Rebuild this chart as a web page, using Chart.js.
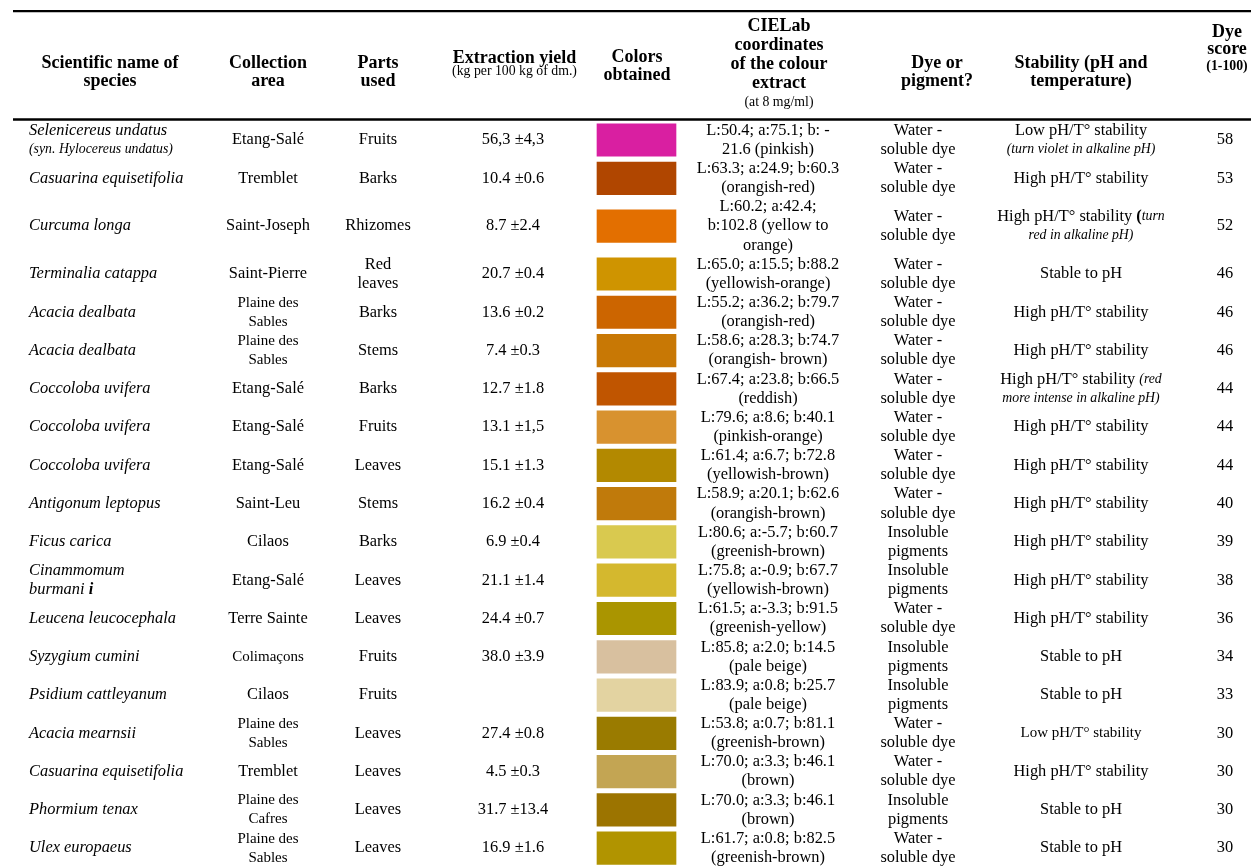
<!DOCTYPE html>
<html>
<head>
<meta charset="utf-8">
<title>Dye sources table</title>
<script src="https://cdn.jsdelivr.net/npm/chart.js@4.4.1/dist/chart.umd.min.js"></script>
<style>
  html, body { margin: 0; padding: 0; background: #ffffff; }
  #wrap { width: 1251px; height: 867px; }
</style>
</head>
<body>
<div id="wrap"><canvas id="dye-table" width="1251" height="867"></canvas></div>
<script>
// markup in cell texts: * toggles bold, ^ toggles italic, _ small size, ~ medium size, \n new line

const headers = [
    'Scientific name of\nspecies',
    'Collection\narea',
    'Parts\nused',
    'Extraction yield\n*_(kg per 100 kg of dm.)_*',
    'Colors\nobtained',
    'CIELab\ncoordinates\nof the colour\nextract\n*_(at 8 mg/ml)_*',
    'Dye or\npigment?',
    'Stability (pH and\ntemperature)',
    'Dye\nscore\n_(1-100)_'
];

const species = [
    'Selenicereus undatus\n_(syn. Hylocereus undatus)_',
    'Casuarina equisetifolia',
    'Curcuma longa',
    'Terminalia catappa',
    'Acacia dealbata',
    'Acacia dealbata',
    'Coccoloba uvifera',
    'Coccoloba uvifera',
    'Coccoloba uvifera',
    'Antigonum leptopus',
    'Ficus carica',
    'Cinammomum\nburmani *i*',
    'Leucena leucocephala',
    'Syzygium cumini',
    'Psidium cattleyanum',
    'Acacia mearnsii',
    'Casuarina equisetifolia',
    'Phormium tenax',
    'Ulex europaeus'
];

const areas = [
    'Etang-Salé', 'Tremblet', 'Saint-Joseph', 'Saint-Pierre',
    '~Plaine des\nSables~', '~Plaine des\nSables~',
    'Etang-Salé', 'Etang-Salé', 'Etang-Salé', 'Saint-Leu', 'Cilaos', 'Etang-Salé',
    'Terre Sainte', '~Colimaçons~', 'Cilaos', '~Plaine des\nSables~', 'Tremblet',
    '~Plaine des\nCafres~', '~Plaine des\nSables~'
];

const parts = [
    'Fruits', 'Barks', 'Rhizomes', 'Red\nleaves', 'Barks', 'Stems', 'Barks', 'Fruits',
    'Leaves', 'Stems', 'Barks', 'Leaves', 'Leaves', 'Fruits', 'Fruits', 'Leaves',
    'Leaves', 'Leaves', 'Leaves'
];

const yields = [
    '56,3 ±4,3', '10.4 ±0.6', '8.7 ±2.4', '20.7 ±0.4', '13.6 ±0.2', '7.4 ±0.3',
    '12.7 ±1.8', '13.1 ±1,5', '15.1 ±1.3', '16.2 ±0.4', '6.9 ±0.4', '21.1 ±1.4',
    '24.4 ±0.7', '38.0 ±3.9', '', '27.4 ±0.8', '4.5 ±0.3', '31.7 ±13.4', '16.9 ±1.6'
];

const colors = [
    '#d91fa1', '#b04600', '#e36f00', '#cf9400', '#cc6500', '#c87805', '#c05500',
    '#d8922f', '#b38900', '#c07a0b', '#d9c94f', '#d4b82e', '#aa9500', '#d8c09f',
    '#e3d3a1', '#9a7b00', '#c3a553', '#9c7400', '#b19400'
];

const cielab = [
    'L:50.4; a:75.1; b: -\n21.6 (pinkish)',
    'L:63.3; a:24.9; b:60.3\n(orangish-red)',
    'L:60.2; a:42.4;\nb:102.8 (yellow to\norange)',
    'L:65.0; a:15.5; b:88.2\n(yellowish-orange)',
    'L:55.2; a:36.2; b:79.7\n(orangish-red)',
    'L:58.6; a:28.3; b:74.7\n(orangish- brown)',
    'L:67.4; a:23.8; b:66.5\n(reddish)',
    'L:79.6; a:8.6; b:40.1\n(pinkish-orange)',
    'L:61.4; a:6.7; b:72.8\n(yellowish-brown)',
    'L:58.9; a:20.1; b:62.6\n(orangish-brown)',
    'L:80.6; a:-5.7; b:60.7\n(greenish-brown)',
    'L:75.8; a:-0.9; b:67.7\n(yellowish-brown)',
    'L:61.5; a:-3.3; b:91.5\n(greenish-yellow)',
    'L:85.8; a:2.0; b:14.5\n(pale beige)',
    'L:83.9; a:0.8; b:25.7\n(pale beige)',
    'L:53.8; a:0.7; b:81.1\n(greenish-brown)',
    'L:70.0; a:3.3; b:46.1\n(brown)',
    'L:70.0; a:3.3; b:46.1\n(brown)',
    'L:61.7; a:0.8; b:82.5\n(greenish-brown)'
];

const WS = 'Water -\nsoluble dye';
const IP = 'Insoluble\npigments';
const dyeType = [WS, WS, WS, WS, WS, WS, WS, WS, WS, WS, IP, IP, WS, IP, IP, WS, WS, IP, WS];

const HIGH = 'High pH/T° stability';
const stability = [
    'Low pH/T° stability\n_^(turn violet in alkaline pH)^_',
    HIGH,
    'High pH/T° stability *(*_^turn\nred in alkaline pH)^_',
    'Stable to pH',
    HIGH,
    HIGH,
    'High pH/T° stability _^(red\nmore intense in alkaline pH)^_',
    HIGH, HIGH, HIGH, HIGH, HIGH, HIGH,
    'Stable to pH',
    'Stable to pH',
    '~Low pH/T° stability~',
    HIGH,
    'Stable to pH',
    'Stable to pH'
];

const scores = [58, 53, 52, 46, 46, 46, 44, 44, 44, 40, 39, 38, 36, 34, 33, 30, 30, 30, 30];

// ---- layout (pixels) ----
const W = 1251, H = 867;
const FONT = '"Liberation Serif", "Times New Roman", Times, serif';
const BODY_SIZE = 16.4, HEAD_SIZE = 18, SMALL_SIZE = 13.8, MID_SIZE = 15;
const LINE = 19.14;        // px per body text line
const BODY_TOP = 120.86;   // px where first row starts
const SWATCH_HALF = 0.85;  // swatch half height, in lines
const SWATCH_W = 79;
const COLOR_X = 636.5;

const bodyCols = [
    { values: species,   x: 29,   align: 'left', italic: true },
    { values: areas,     x: 268 },
    { values: parts,     x: 378 },
    { values: yields,    x: 513 },
    { values: cielab,    x: 768 },
    { values: dyeType,   x: 918 },
    { values: stability, x: 1081 },
    { values: scores,    x: 1225 }
];

// header: x centre and y middle of every line (px)
const headLayout = [
    { x: 110,   ys: [63, 81.5] },
    { x: 268,   ys: [63, 81.5] },
    { x: 378,   ys: [63, 81.5] },
    { x: 514.5, ys: [58.5, 71] },
    { x: 637,   ys: [57, 75.5] },
    { x: 779,   ys: [26, 45, 64, 83, 102] },
    { x: 937,   ys: [63, 81.5] },
    { x: 1081,  ys: [63, 81.5] },
    { x: 1227,  ys: [32, 49, 66] }
];

// row extents in line units, from the number of text lines in each row
const rowLines = species.map((_, i) =>
    Math.max(...bodyCols.map(c => String(c.values[i]).split('\n').length)));
const rowMid = [];
let acc = 0;
rowLines.forEach(n => { rowMid.push(acc + n / 2); acc += n; });

function parseRich(str) {
    const lines = [[]];
    let bold = false, ital = false, small = false, mid = false, buf = '';
    const flush = () => {
        if (buf) lines[lines.length - 1].push({ t: buf, bold, ital, small, mid });
        buf = '';
    };
    for (const ch of String(str)) {
        if (ch === '*') { flush(); bold = !bold; }
        else if (ch === '^') { flush(); ital = !ital; }
        else if (ch === '_') { flush(); small = !small; }
        else if (ch === '~') { flush(); mid = !mid; }
        else if (ch === '\n') { flush(); lines.push([]); }
        else buf += ch;
    }
    flush();
    return lines;
}

function runFont(base, r) {
    const italic = (!!base.italic) !== r.ital;
    const bold = (!!base.bold) !== r.bold;
    const size = r.small ? SMALL_SIZE : r.mid ? MID_SIZE : base.size;
    return (italic ? 'italic ' : '') + (bold ? 'bold ' : '') + size + 'px ' + FONT;
}

function drawRichLine(ctx, runs, x, y, align, base) {
    let total = 0;
    const widths = runs.map(r => {
        ctx.font = runFont(base, r);
        const w = ctx.measureText(r.t).width;
        total += w;
        return w;
    });
    let cx = align === 'left' ? x : x - total / 2;
    runs.forEach((r, k) => {
        ctx.font = runFont(base, r);
        ctx.fillText(r.t, cx, y);
        cx += widths[k];
    });
}

const tableText = {
    id: 'tableText',
    afterDatasetsDraw(chart) {
        const ctx = chart.ctx;
        const xs = chart.scales.x, ys = chart.scales.y;
        ctx.save();
        ctx.fillStyle = '#000000';
        ctx.textBaseline = 'middle';
        ctx.textAlign = 'left';

        // rules
        ctx.strokeStyle = '#000000';
        ctx.lineWidth = 2.3;
        [11.2, 119.5].forEach(py => {
            ctx.beginPath();
            ctx.moveTo(13, py);
            ctx.lineTo(W, py);
            ctx.stroke();
        });

        // header
        headers.forEach((h, c) => {
            const lay = headLayout[c];
            parseRich(h).forEach((runs, k) => {
                drawRichLine(ctx, runs, lay.x, lay.ys[k], 'center', { bold: true, size: HEAD_SIZE });
            });
        });

        // body
        bodyCols.forEach(col => {
            const base = { italic: col.italic, size: BODY_SIZE };
            const px = xs.getPixelForValue(col.x);
            col.values.forEach((v, i) => {
                const lines = parseRich(v);
                const n = lines.length;
                lines.forEach((runs, k) => {
                    const py = ys.getPixelForValue(rowMid[i] - (n - 1) / 2 + k);
                    drawRichLine(ctx, runs, px, py, col.align || 'center', base);
                });
            });
        });
        ctx.restore();
    }
};

const swatchData = colors.map((c, i) => ({ x: COLOR_X, y: [rowMid[i] - SWATCH_HALF, rowMid[i] + SWATCH_HALF] }));

new Chart(document.getElementById('dye-table'), {
    type: 'bar',
    data: {
        datasets: [{
            label: 'Colors obtained',
            data: swatchData,
            backgroundColor: colors,
            borderWidth: 0,
            barThickness: SWATCH_W
        }]
    },
    options: {
        responsive: false,
        animation: false,
        events: [],
        layout: { padding: 0 },
        plugins: {
            legend: { display: false },
            tooltip: { enabled: false }
        },
        scales: {
            x: { type: 'linear', min: 0, max: W, offset: false, display: false },
            y: {
                type: 'linear',
                reverse: true,
                min: -BODY_TOP / LINE,
                max: (H - BODY_TOP) / LINE,
                display: false
            }
        }
    },
    plugins: [tableText]
});
</script>
</body>
</html>
